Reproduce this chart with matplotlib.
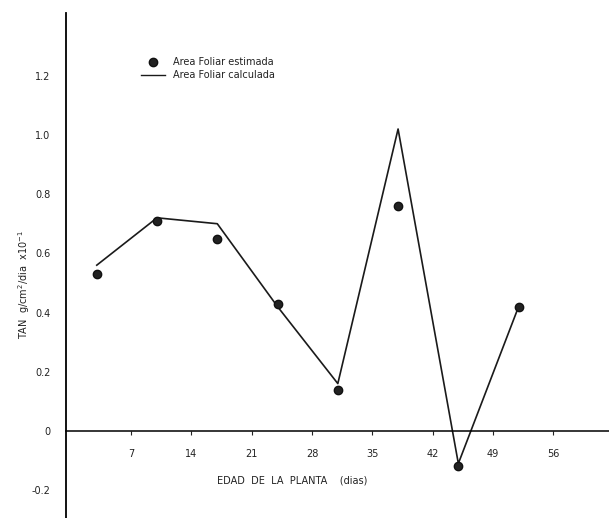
import matplotlib
matplotlib.use("Agg")
import matplotlib.pyplot as plt
from matplotlib.lines import Line2D

# edad de la planta (dias)
dias = [3, 10, 17, 24, 31, 38, 45, 52]
# TAN estimada a partir del area foliar
tan_estimada = [0.53, 0.71, 0.65, 0.43, 0.14, 0.76, -0.12, 0.42]
# TAN con area foliar calculada
tan_calculada = [0.56, 0.72, 0.70, 0.42, 0.16, 1.02, -0.11, 0.42]

xticks = [7, 14, 21, 28, 35, 42, 49, 56]
yticks = [-0.2, 0.2, 0.4, 0.6, 0.8, 1.0, 1.2]

plt.rcParams["font.family"] = ["DejaVu Sans"]

fig = plt.figure(figsize=(6.09, 5.18), dpi=100)
ax = fig.add_axes([0.108, 0.0, 0.892, 0.975])

ax.plot(dias, tan_calculada, color="#1a1a1a", lw=1.2, zorder=2)
ax.plot(dias, tan_estimada, ls="none", marker="o", ms=6,
        mfc="#222222", mec="#111111", mew=1.0, zorder=3)

ax.set_xlim(-0.6, 62.5)
ax.set_ylim(-0.294, 1.412)

for s in ["top", "right"]:
    ax.spines[s].set_visible(False)
ax.spines["bottom"].set_position(("data", 0))
ax.spines["bottom"].set_linewidth(1.1)
ax.spines["left"].set_linewidth(1.3)

ax.set_xticks(xticks)
ax.set_xticklabels([str(t) for t in xticks])
ax.tick_params(axis="x", direction="out", length=3, width=0.8,
               labelsize=7, pad=10, colors="#222222")

ax.set_yticks([0] + yticks)
ax.set_yticklabels(["0"] + [f"{v:.1f}" for v in yticks])
ax.tick_params(axis="y", length=0, labelsize=7, pad=11, colors="#222222")

fig.text(0.48, 0.073, "EDAD  DE  LA  PLANTA    (dias)", ha="center",
         va="center", fontsize=7, color="#222222")
fig.text(0.04, 0.45, r"TAN  g/cm$^2$/dia  x10$^{-1}$", rotation=90,
         ha="center", va="center", fontsize=7, color="#222222")

handles = [
    Line2D([], [], ls="none", marker="o", ms=6, mfc="#222222",
           mec="#111111", mew=1.0),
    Line2D([], [], color="#1a1a1a", lw=1.0),
]
ax.legend(handles, ["Area Foliar estimada", "Area Foliar calculada"],
          loc="upper left", bbox_to_anchor=(0.13, 0.922), frameon=False,
          fontsize=7, borderpad=0, handlelength=2.4, handletextpad=0.9,
          labelspacing=0.3, labelcolor="#222222")

fig.savefig("out.png", dpi=100)
